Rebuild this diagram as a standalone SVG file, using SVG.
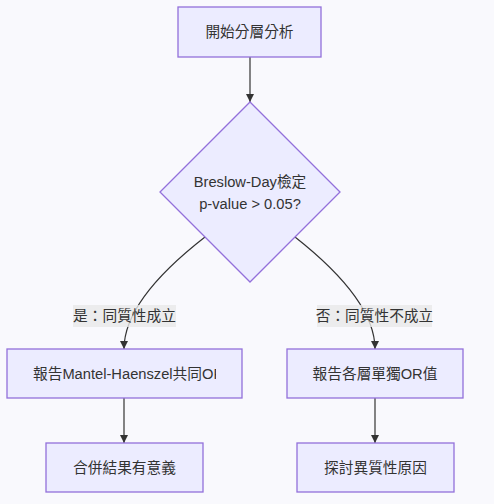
<svg xmlns="http://www.w3.org/2000/svg" width="494" height="504" viewBox="0 0 494 504">
<style>
.node{fill:#ECECFF;stroke:#9370DB;stroke-width:1.3}
.t{font-family:"Liberation Sans","Noto Sans CJK TC",sans-serif;font-size:14.7px;fill:#333;text-anchor:middle;dominant-baseline:central}
.edge{fill:none;stroke:#333;stroke-width:1.2}
.lbl{fill:#E8E8E8;fill-opacity:0.8}
</style>
<defs>
<marker id="arr" viewBox="0 0 10 10" refX="10" refY="5" markerWidth="8" markerHeight="8" orient="auto" markerUnits="userSpaceOnUse">
<path d="M0,0 L10,5 L0,10 z" fill="#333"/>
</marker>
<clipPath id="clipL"><rect x="7" y="349" width="209" height="49"/></clipPath>
</defs>
<rect width="494" height="504" fill="#F9F9FD"/>
<g id="connectors">
<path class="edge" d="M250,57 L250,102" marker-end="url(#arr)"/>
<path class="edge" d="M205,237 Q124,300 124,349" marker-end="url(#arr)"/>
<path class="edge" d="M295,237 Q375,300 375,349" marker-end="url(#arr)"/>
<path class="edge" d="M124,398 L124,443" marker-end="url(#arr)"/>
<path class="edge" d="M375,398 L375,443" marker-end="url(#arr)"/>
</g>
<g id="edge-labels">
<rect class="lbl" x="73" y="305" width="103" height="22"/>
<text class="t" x="124.5" y="316">是：同質性成立</text>
<rect class="lbl" x="317" y="305" width="115" height="22"/>
<text class="t" x="374.5" y="316">否：同質性不成立</text>
</g>
<g id="start">
<rect class="node" x="178" y="7" width="143" height="50"/>
<text class="t" x="249.5" y="32">開始分層分析</text>
</g>
<g id="decision">
<polygon class="node" points="250,102 340,192 250,282 160,192"/>
<text class="t" x="250" y="182">Breslow-Day檢定</text>
<text class="t" x="250" y="204">p-value &gt; 0.05?</text>
</g>
<g id="reportMH">
<rect class="node" x="7" y="349" width="235" height="49"/>
<text class="t" x="33" y="373.5" style="text-anchor:start" clip-path="url(#clipL)">報告Mantel-Haenszel共同OR</text>
</g>
<g id="reportEach">
<rect class="node" x="287" y="349" width="176" height="49"/>
<text class="t" x="375" y="373.5">報告各層單獨OR值</text>
</g>
<g id="meaningful">
<rect class="node" x="46" y="443" width="157" height="49"/>
<text class="t" x="124.5" y="467.5">合併結果有意義</text>
</g>
<g id="explore">
<rect class="node" x="297" y="443" width="157" height="49"/>
<text class="t" x="375.5" y="467.5">探討異質性原因</text>
</g>
</svg>
